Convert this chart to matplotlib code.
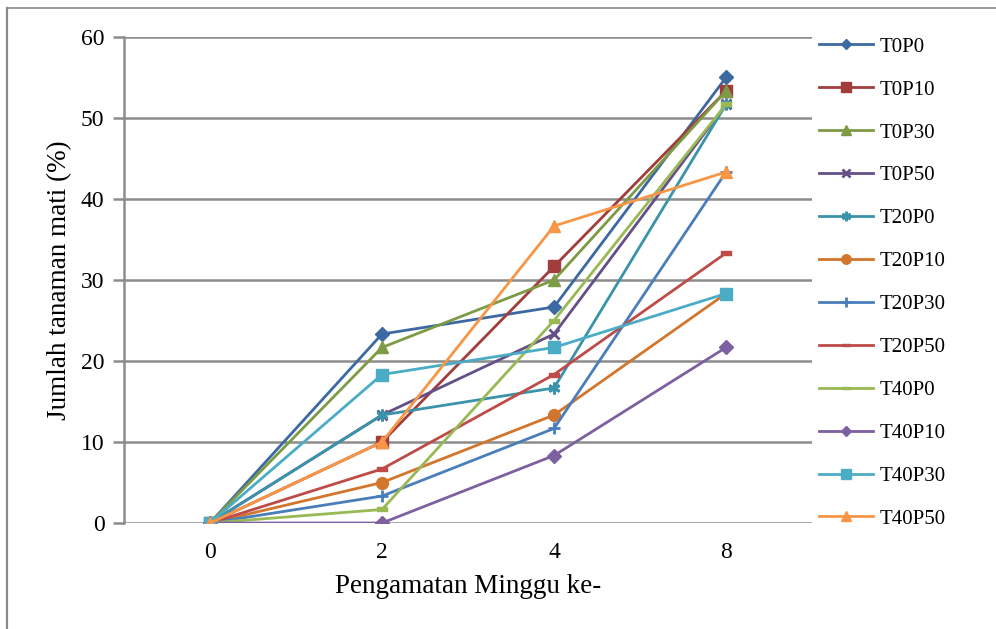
import matplotlib
matplotlib.use("Agg")
import matplotlib.pyplot as plt
from matplotlib.lines import Line2D

plt.rcParams['font.family'] = ['Liberation Serif', 'DejaVu Serif']

weeks = ["0", "2", "4", "8"]

T0P0 = [0, 23.33, 26.67, 55.0]
T0P10 = [0, 10.0, 31.67, 53.33]
T0P30 = [0, 21.67, 30.0, 53.33]
T0P50 = [0, 13.33, 23.33, 51.67]
T20P0 = [0, 13.33, 16.67, 51.67]
T20P10 = [0, 5.0, 13.33, 28.33]
T20P30 = [0, 3.33, 11.67, 43.33]
T20P50 = [0, 6.67, 18.33, 33.33]
T40P0 = [0, 1.67, 25.0, 51.67]
T40P10 = [0, 0.0, 8.33, 21.67]
T40P30 = [0, 18.33, 21.67, 28.33]
T40P50 = [0, 10.0, 36.67, 43.33]

series_names = ["T0P0", "T0P10", "T0P30", "T0P50", "T20P0", "T20P10",
                "T20P30", "T20P50", "T40P0", "T40P10", "T40P30", "T40P50"]
series_values = [T0P0, T0P10, T0P30, T0P50, T20P0, T20P10,
                 T20P30, T20P50, T40P0, T40P10, T40P30, T40P50]

colors = ['#3C69A2', '#A13D3B', '#7D9A45', '#654F87', '#3A93AA', '#D2762E',
          '#4A7EBB', '#BE4B48', '#98B954', '#7D60A0', '#4BACC6', '#F79646']

dash = [(-1, -0.3), (1, -0.3), (1, 0.3), (-1, 0.3), (-1, -0.3)]
markers = ['D', 's', '^', 'x', (6, 2, 0), 'o', '+', dash, dash, 'D', 's', '^']
msizes = [7, 8.5, 8.5, 7.5, 8.5, 8.5, 8.5, 7.5, 7.5, 7, 8.5, 8.5]

fig = plt.figure(figsize=(9.96, 6.29), dpi=100)
ax = fig.add_axes([0.1245, 0.1685, 0.6908, 0.7727])

x = list(range(len(weeks)))
for name, vals, c, m, ms in zip(series_names, series_values, colors, markers, msizes):
    mew = 2.0 if m in ('x', '+') or isinstance(m, tuple) else 1.0
    ax.plot(x, vals, color=c, lw=2.0, marker=m, markersize=ms,
            markerfacecolor=c, markeredgecolor=c, markeredgewidth=mew,
            label=name, zorder=3)

ax.set_xlim(-0.5, len(weeks) - 0.5)
ax.set_ylim(0, 60)
ax.set_xticks(x)
ax.set_xticklabels(weeks)
ax.set_yticks(range(0, 61, 10))
ax.yaxis.grid(True, color='#8C8C8C', lw=1.8, zorder=0)
ax.set_axisbelow(True)
for s in ('top', 'right', 'bottom'):
    ax.spines[s].set_visible(False)
ax.spines['left'].set_color('#8C8C8C')
ax.spines['left'].set_linewidth(1.8)
ax.tick_params(axis='y', length=8, width=1.8, color='#8C8C8C', labelsize=17, pad=6)
ax.tick_params(axis='x', length=0, labelsize=17, pad=14)

ax.set_ylabel("Jumlah tanaman mati (%)", fontsize=19.5)
ax.yaxis.set_label_coords(-0.076, 0.5)
ax.set_xlabel("Pengamatan Minggu ke-", fontsize=19.5)
ax.xaxis.set_label_coords(0.5, -0.105)

fig.legend(loc='upper left', bbox_to_anchor=(0.8223, 0.941), frameon=False,
           fontsize=15, handlelength=2.6, handletextpad=0.3, labelspacing=1.12,
           borderpad=0, borderaxespad=0, markerscale=0.8)

# chart border
fig.add_artist(Line2D([7 / 996, 1], [1 - 8 / 629, 1 - 8 / 629],
                      transform=fig.transFigure, color='#8A8A8A', lw=1.2))
fig.add_artist(Line2D([7 / 996, 7 / 996], [0, 1 - 8 / 629],
                      transform=fig.transFigure, color='#8A8A8A', lw=1.6))

fig.savefig("out.png", dpi=100)
